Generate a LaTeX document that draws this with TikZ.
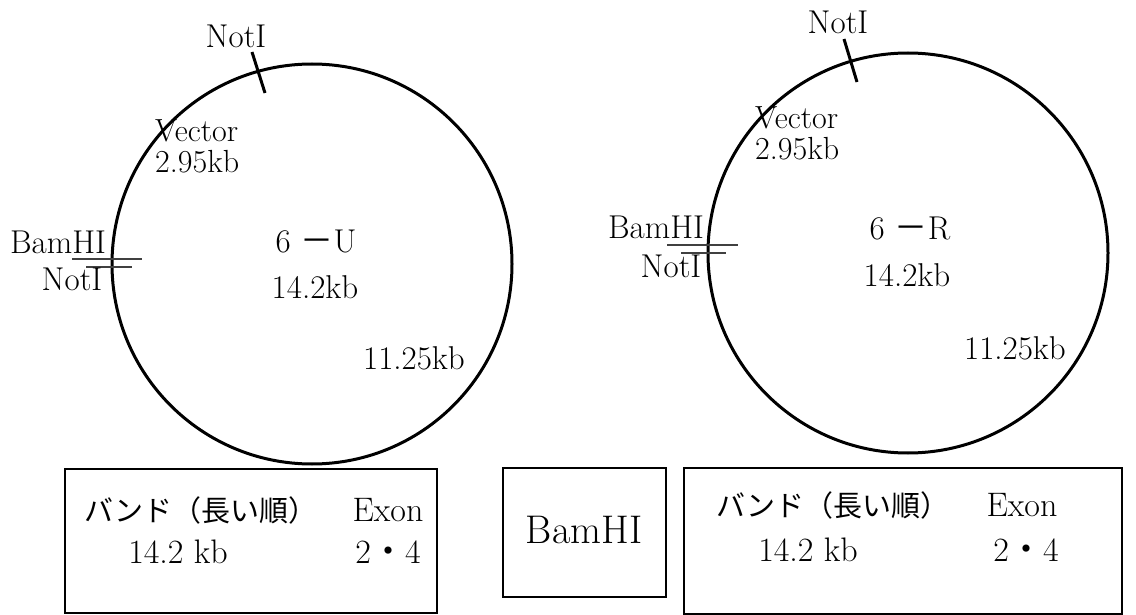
\documentclass[tikz,border=0pt]{standalone}
\usepackage{fontspec}
\newfontfamily\jp{Noto Sans CJK JP}
\begin{document}
\begin{tikzpicture}[x=1pt,y=-1pt,
  plasmid/.style={circle,draw,line width=3pt,minimum size=400pt,inner sep=0pt},
  lbl/.style={inner sep=0pt,font=\fontsize{33}{38}\selectfont},
  vlbl/.style={inner sep=0pt,align=left,anchor=west,font=\fontsize{32}{31}\selectfont},
  tlbl/.style={inner sep=0pt,font=\fontsize{34}{40}\selectfont},
  jlbl/.style={inner sep=0pt,font=\fontsize{29}{34}\selectfont\jp},
  bigl/.style={inner sep=0pt,font=\fontsize{40}{48}\selectfont},
  site/.style={line width=3pt},
  cut/.style={line width=1.8pt,black!75},
  panel/.style={draw,line width=1.8pt}]
\useasboundingbox (0,0) rectangle (1136,615);

% ---- plasmid 6-U ----
\node[plasmid] (cU) at (312,264) {};
\draw[site] (252,52) -- (265,93);
\draw[cut] (72,259) -- (142,259);
\draw[cut] (86,267) -- (132,267);
\node[lbl] (notUt) at (236,36) {NotI};
\node[vlbl] (vecU) at (155,146) {Vector\\2.95kb};
\node[lbl] (bamU) at (58,242) {BamHI};
\node[lbl] (notUl) at (72,279) {NotI};
\node[lbl] (nameU) at (316,241) {6 {\jp －}U};
\node[lbl] (sizeU) at (315,287) {14.2kb};
\node[lbl] (insU) at (414,358) {11.25kb};

% ---- plasmid 6-R ----
\node[plasmid] (cR) at (908,253) {};
\draw[site] (844,39) -- (857,82);
\draw[cut] (667,245) -- (738,245);
\draw[cut] (681,253) -- (726,253);
\node[lbl] (notRt) at (838,22) {NotI};
\node[vlbl] (vecR) at (755,133) {Vector\\2.95kb};
\node[lbl] (bamR) at (656,227) {BamHI};
\node[lbl] (notRl) at (671,266) {NotI};
\node[lbl] (nameR) at (910,228) {6 {\jp －}R};
\node[lbl] (sizeR) at (907,275) {14.2kb};
\node[lbl] (insR) at (1015,348) {11.25kb};

% ---- band tables ----
\node[panel,minimum width=372pt,minimum height=144pt,inner sep=0pt] (boxU) at (251,541) {};
\node[jlbl,anchor=west] (hdU) at (84,510) {バンド（長い順）};
\node[tlbl] (exU) at (388,510) {Exon};
\node[tlbl] (bandU) at (178,552) {14.2 kb};
\node[tlbl] (exnU) at (388,552) {2{\jp ・}4};

\node[panel,minimum width=163pt,minimum height=129pt,inner sep=0pt] (boxE) at (584.5,532.5) {};
\node[bigl] (enz) at (584,530) {BamHI};

\node[panel,minimum width=438pt,minimum height=146pt,inner sep=0pt] (boxR) at (903,541) {};
\node[jlbl,anchor=west] (hdR) at (716,505) {バンド（長い順）};
\node[tlbl] (exR) at (1022,505) {Exon};
\node[tlbl] (bandR) at (808,550) {14.2 kb};
\node[tlbl] (exnR) at (1026,550) {2{\jp ・}4};
\end{tikzpicture}
\end{document}
